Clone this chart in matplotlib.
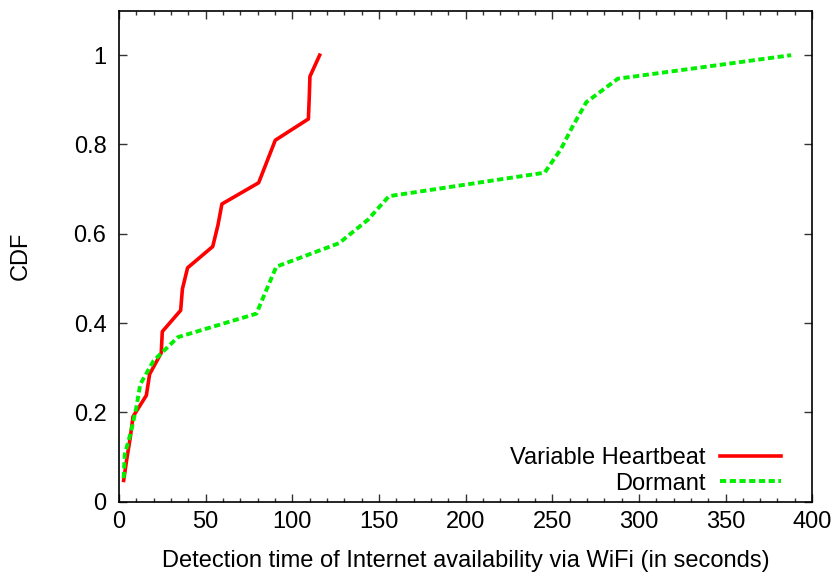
import matplotlib
matplotlib.use("Agg")
import matplotlib.pyplot as plt
from matplotlib.ticker import MultipleLocator, FuncFormatter

plt.rcParams['font.family'] = ['Liberation Sans', 'DejaVu Sans']

# CDF data
heartbeat_x = [2.7, 4.5, 6.5, 8.1, 15.8, 17.7, 24.4, 25.0, 35.6, 36.6, 39.6,
               54.1, 57.1, 59.4, 80.6, 85.4, 90.2, 109.3, 109.8, 110.2, 115.8]
heartbeat_y = [i / 21 for i in range(1, 22)]

dormant_x = [2.7, 3.3, 7.0, 10.0, 12.3, 20.0, 34.0, 79.3, 85.0, 90.8, 127.0,
             143.7, 155.8, 245.6, 255.0, 262.0, 269.7, 287.9, 387.9]
dormant_y = [i / 19 for i in range(1, 20)]

fig = plt.figure(figsize=(8.39, 5.75), dpi=100)
ax = fig.add_axes([0.1418, 0.1275, 0.968 - 0.1418, 0.9817 - 0.1275])

ax.plot(heartbeat_x, heartbeat_y, color='#ff0000', lw=2.6, label='Variable Heartbeat')
ax.plot(dormant_x, dormant_y, color='#00f000', lw=2.8, linestyle=(0, (1.6, 0.9)),
        label='Dormant')

ax.set_xlim(0, 400)
ax.set_ylim(0, 1.1)
ax.xaxis.set_major_locator(MultipleLocator(50))
ax.xaxis.set_minor_locator(MultipleLocator(10))
ax.yaxis.set_major_locator(MultipleLocator(0.2))
ax.yaxis.set_major_formatter(FuncFormatter(lambda v, p: '%g' % round(v, 2)))

ax.tick_params(which='both', direction='in', top=True, right=True, labelsize=17,
               color='#333333')
ax.tick_params(which='major', length=6, width=1)
ax.tick_params(which='minor', length=3, width=1)
ax.tick_params(axis='x', pad=7)
ax.tick_params(axis='y', pad=9)
for s in ax.spines.values():
    s.set_linewidth(1.2)

ax.set_xlabel('Detection time of Internet availability via WiFi (in seconds)', fontsize=17,
              labelpad=12)
ax.set_ylabel('CDF', fontsize=17, labelpad=30)

ax.legend(loc='lower right', frameon=False, markerfirst=False, fontsize=17,
          handlelength=2.6, handletextpad=0.6, labelspacing=0.15,
          borderaxespad=0.0, bbox_to_anchor=(0.969, -0.005))

fig.savefig('out.png', dpi=100)
